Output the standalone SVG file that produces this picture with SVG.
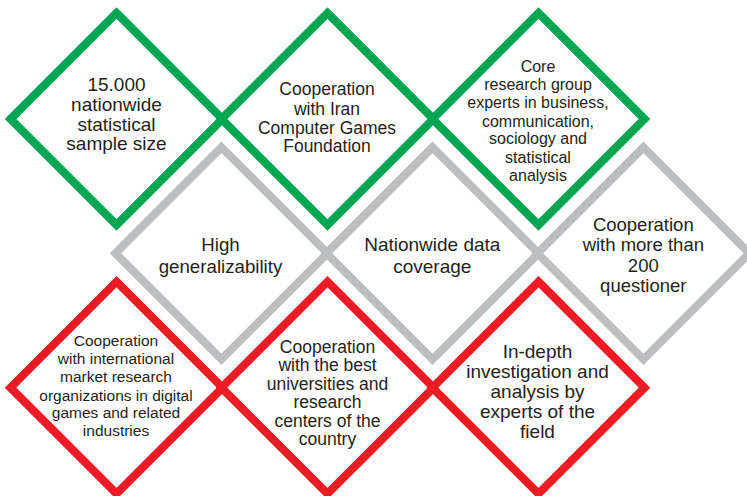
<svg xmlns="http://www.w3.org/2000/svg" width="747" height="496" viewBox="0 0 747 496">
<style>
.d{fill:#fff;stroke-width:8.2;stroke-linejoin:miter;stroke-miterlimit:10}
.g{stroke:#00A651}
.s{stroke:#BCBEC0}
.r{stroke:#ED1C24}
text{font-family:"Liberation Sans",Arial,sans-serif;fill:#231F20;text-anchor:middle}
</style>
<defs>
<path id="dia" d="M0,-106 L106,0 L0,106 L-106,0 Z"/>
</defs>
<rect width="747" height="496" fill="#fff"/>
<g id="green1"><use href="#dia" class="d g" x="116.5" y="119"/>
<text font-size="19"><tspan x="116.5" y="91">15.000</tspan><tspan x="116.5" y="111">nationwide</tspan><tspan x="116.5" y="131">statistical</tspan><tspan x="116.5" y="150">sample size</tspan></text></g>
<g id="green2"><use href="#dia" class="d g" x="327.5" y="119"/>
<text font-size="17.5"><tspan x="327" y="95">Cooperation</tspan><tspan x="327" y="114.5">with Iran</tspan><tspan x="327" y="133.5">Computer Games</tspan><tspan x="327" y="152">Foundation</tspan></text></g>
<g id="green3"><use href="#dia" class="d g" x="538.5" y="119"/>
<text font-size="16"><tspan x="538" y="71.5">Core</tspan><tspan x="538" y="90">research group</tspan><tspan x="538" y="107.5">experts in business,</tspan><tspan x="538" y="126.5">communication,</tspan><tspan x="538" y="144">sociology and</tspan><tspan x="538" y="163">statistical</tspan><tspan x="538" y="181">analysis</tspan></text></g>
<g id="gray1"><use href="#dia" class="d s" x="221.5" y="253.3"/>
<text font-size="18.7"><tspan x="220.5" y="250.7">High</tspan><tspan x="220.5" y="273.3">generalizability</tspan></text></g>
<g id="gray2"><use href="#dia" class="d s" x="432.5" y="253.3"/>
<text font-size="19"><tspan x="432.3" y="250.7">Nationwide data</tspan><tspan x="432.3" y="273">coverage</tspan></text></g>
<g id="gray3"><use href="#dia" class="d s" x="643.5" y="253.3"/>
<text font-size="18.5"><tspan x="643.3" y="230.5">Cooperation</tspan><tspan x="643.3" y="251">with more than</tspan><tspan x="643.3" y="272.2">200</tspan><tspan x="643.3" y="292">questioner</tspan></text></g>
<g id="red1"><use href="#dia" class="d r" x="116.5" y="387.7"/>
<text font-size="15.5"><tspan x="116" y="346">Cooperation</tspan><tspan x="116" y="364">with international</tspan><tspan x="116" y="381.7">market research</tspan><tspan x="116" y="400.7">organizations in digital</tspan><tspan x="116" y="418.3">games and related</tspan><tspan x="116" y="436">industries</tspan></text></g>
<g id="red2"><use href="#dia" class="d r" x="327.5" y="387.7"/>
<text font-size="17.5"><tspan x="327.5" y="352.5">Cooperation</tspan><tspan x="327.5" y="371.2">with the best</tspan><tspan x="327.5" y="389.5">universities and</tspan><tspan x="327.5" y="408.2">research</tspan><tspan x="327.5" y="426.7">centers of the</tspan><tspan x="327.5" y="445.2">country</tspan></text></g>
<g id="red3"><use href="#dia" class="d r" x="538.5" y="387.7"/>
<text font-size="19"><tspan x="537.5" y="358.3">In-depth</tspan><tspan x="537.5" y="378.3">investigation and</tspan><tspan x="537.5" y="397.7">analysis by</tspan><tspan x="537.5" y="418.3">experts of the</tspan><tspan x="537.5" y="438.3">field</tspan></text></g>
</svg>
